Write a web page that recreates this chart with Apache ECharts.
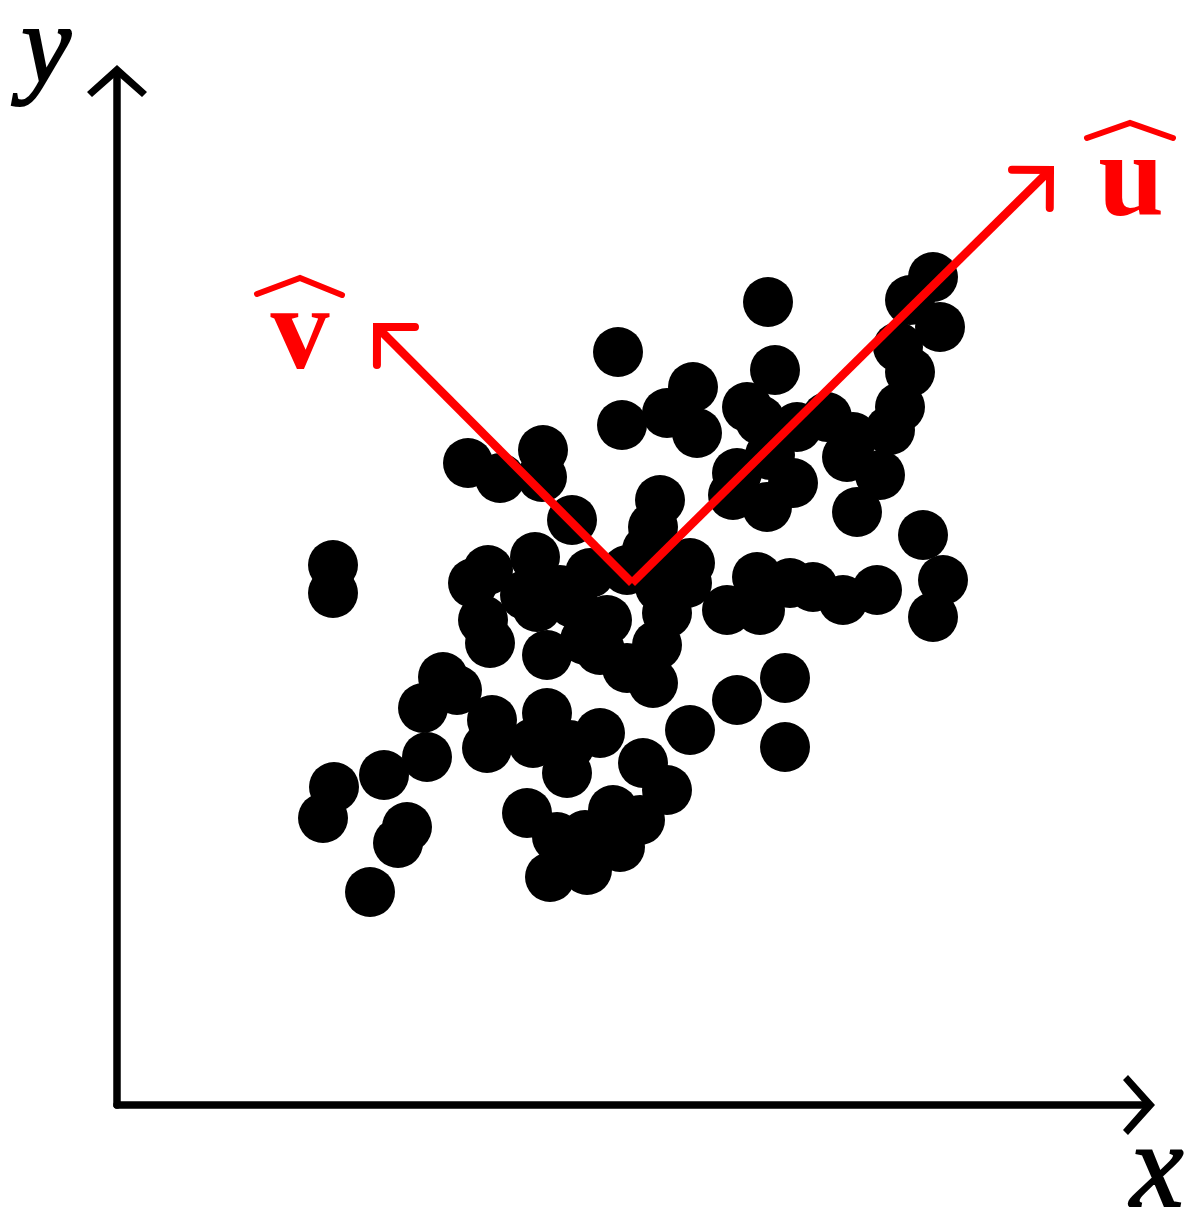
<!DOCTYPE html>
<html>
<head>
<meta charset="utf-8">
<script src="https://cdn.jsdelivr.net/npm/echarts@6/dist/echarts.min.js"></script>
<style>
html,body{margin:0;padding:0;background:#fff;}
#chart{width:1200px;height:1226px;}
</style>
</head>
<body>
<div id="chart"></div>
<script>
// Observations (x, y) in data units
const pointX = [651,816,793,823,781,793,783,773,710,730,763,740,806,826,816,658,501,576,550,505,580,630,643,680,736,620,616,650,676,543,536,426,425,351,383,455,216,216,371,356,418,366,373,430,473,456,490,510,530,543,550,540,510,536,573,570,610,640,643,673,696,726,760,408,420,443,326,340,306,310,267,217,206,290,281,253,375,370,430,416,483,450,526,550,410,440,496,523,503,433,470,573,620,668,668,453,468,483,653,468];
const pointY = [803,828,805,778,758,733,698,675,688,648,630,593,570,525,488,735,753,718,692,680,672,698,685,678,668,632,610,598,622,605,578,655,628,642,627,585,540,512,535,522,548,485,462,450,532,502,485,535,555,518,492,460,437,422,542,522,495,528,495,522,518,505,515,510,498,515,428,415,397,348,330,318,287,278,262,213,385,357,392,362,372,332,342,315,292,268,295,285,258,228,235,375,405,427,358,360,270,455,650,465];

// Principal directions: common origin and tips
const vecNames = ['u', 'v'];
const vecStartX = [515, 515];
const vecStartY = [522, 522];
const vecEndX = [933, 260];
const vecEndY = [935, 778];

const axisMaxX = 1030;
const axisMaxY = 1032;

const scatterData = pointX.map((x, i) => [x, pointY[i]]);
const vecData = vecNames.map((n, i) => [vecStartX[i], vecStartY[i], vecEndX[i], vecEndY[i]]);

const chevron = 'path://M30,0 L60,27 L55,32 L30,10 L5,32 L0,27 Z';
const RED = '#ff0000';

function renderArrow(params, api) {
  const p0 = api.coord([api.value(0), api.value(1)]);
  const p1 = api.coord([api.value(2), api.value(3)]);
  const ang = Math.atan2(p1[1] - p0[1], p1[0] - p0[0]);
  const L = 38, a = Math.PI / 4;
  const w1 = [p1[0] - L * Math.cos(ang - a), p1[1] - L * Math.sin(ang - a)];
  const w2 = [p1[0] - L * Math.cos(ang + a), p1[1] - L * Math.sin(ang + a)];
  return {
    type: 'group',
    children: [
      { type: 'line', shape: { x1: p0[0], y1: p0[1], x2: p1[0], y2: p1[1] },
        style: { stroke: RED, lineWidth: 8.5, lineCap: 'butt' } },
      { type: 'polyline', shape: { points: [w1, p1, w2] },
        style: { stroke: RED, lineWidth: 8, fill: null, lineCap: 'round', lineJoin: 'miter' } }
    ]
  };
}

const chart = echarts.init(document.getElementById('chart'), null, { renderer: 'canvas' });
chart.setOption({
  animation: false,
  backgroundColor: '#ffffff',
  grid: { left: 117, right: 53, top: 73, bottom: 121, containLabel: false },
  xAxis: {
    type: 'value', min: 0, max: axisMaxX,
    axisLine: { show: true, onZero: false, symbol: ['none', chevron], symbolSize: [60, 32], symbolOffset: [0, -8],
      lineStyle: { color: '#000', width: 7.5 } },
    axisTick: { show: false }, axisLabel: { show: false }, splitLine: { show: false }
  },
  yAxis: {
    type: 'value', min: 0, max: axisMaxY,
    axisLine: { show: true, onZero: false, symbol: ['none', chevron], symbolSize: [60, 32], symbolOffset: [0, -8],
      lineStyle: { color: '#000', width: 7.5 } },
    axisTick: { show: false }, axisLabel: { show: false }, splitLine: { show: false }
  },
  series: [
    {
      type: 'scatter', data: scatterData, symbol: 'circle', symbolSize: 50,
      itemStyle: { color: '#000', opacity: 1 }, silent: true, z: 2
    },
    {
      type: 'custom', data: vecData, renderItem: renderArrow,
      encode: { x: [0, 2], y: [1, 3] }, silent: true, z: 3
    }
  ],
  graphic: [
    { type: 'text', x: 46, y: 53, style: { text: 'y', font: 'italic 112px "Liberation Serif"', fill: '#000', stroke: '#000', lineWidth: 2, align: 'center', verticalAlign: 'middle' } },
    { type: 'text', x: 1157, y: 1174, style: { text: 'x', font: 'italic 120px "Liberation Serif"', fill: '#000', stroke: '#000', lineWidth: 2, align: 'center', verticalAlign: 'middle' } },
    { type: 'text', x: 1131, y: 185, style: { text: 'u', font: 'bold 118px "Liberation Serif"', fill: RED, align: 'center', verticalAlign: 'middle' } },
    { type: 'text', x: 300, y: 338, style: { text: 'v', font: 'bold 118px "Liberation Serif"', fill: RED, align: 'center', verticalAlign: 'middle' } },
    { type: 'polyline', shape: { points: [[1087,138],[1130,123],[1173,138]] }, style: { stroke: RED, lineWidth: 6, fill: null, lineCap: 'round' } },
    { type: 'polyline', shape: { points: [[257,294],[300,278],[342,295]] }, style: { stroke: RED, lineWidth: 6, fill: null, lineCap: 'round' } }
  ]
});
</script>
</body>
</html>
